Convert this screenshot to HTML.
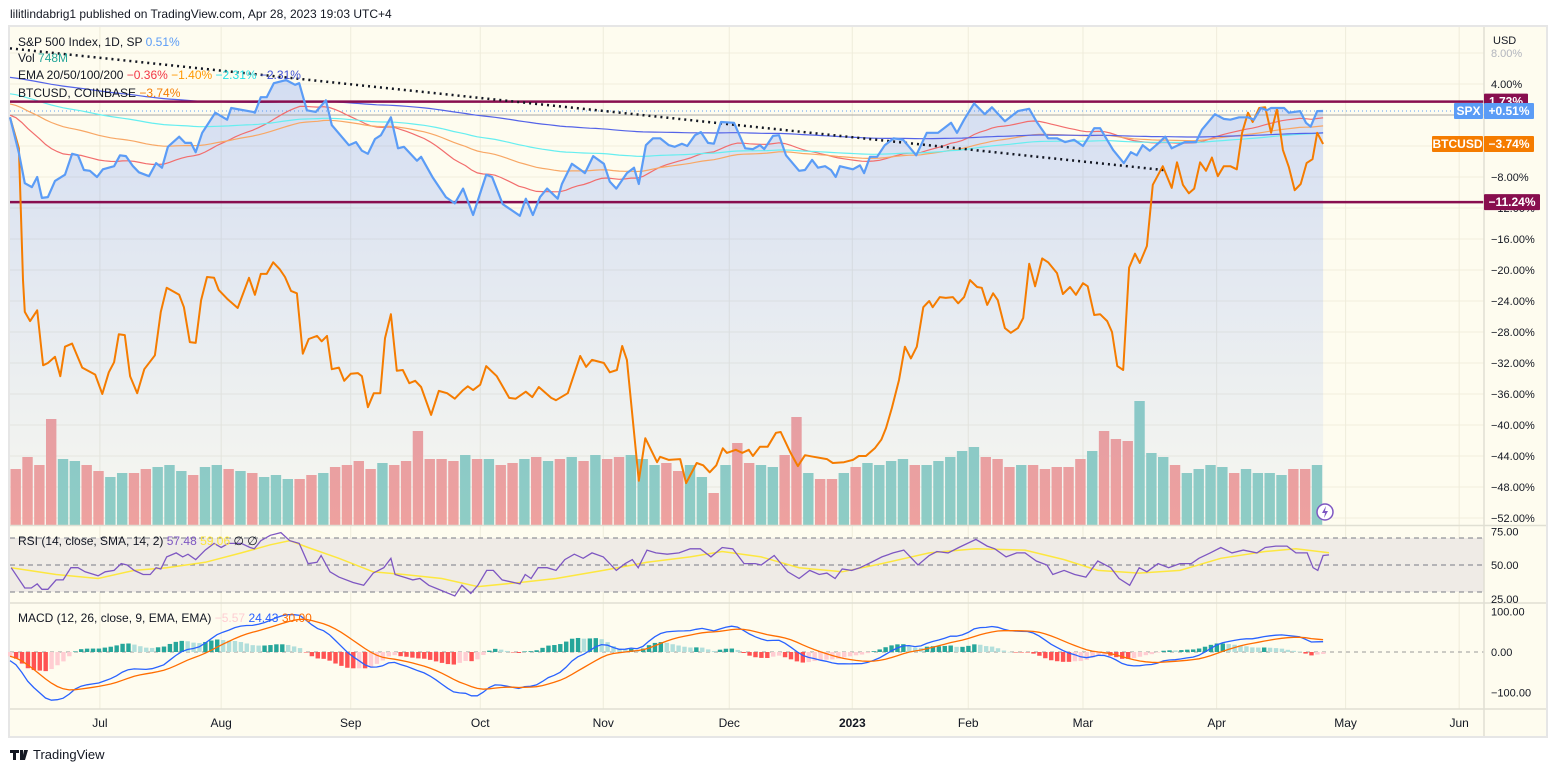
<!DOCTYPE html>
<html><head><meta charset="utf-8"><style>
html,body{margin:0;padding:0;background:#fff;width:1556px;height:772px;overflow:hidden}
svg{display:block;font-family:"Liberation Sans",sans-serif}
</style></head><body>
<svg id="c" width="1556" height="772" viewBox="0 0 1556 772">
<text x="10" y="18" font-size="12" fill="#131722">lilitlindabrig1 published on TradingView.com, Apr 28, 2023 19:03 UTC+4</text>
<rect x="9" y="26" width="1538" height="711" fill="#fefcef" stroke="#e6e6e6" stroke-width="2"/>
<g id="grid"></g>
<rect x="10" y="538" width="1474" height="54" fill="#efebe6"/>
<g id="plot"></g>
<g id="axes"></g>
<g>
<path d="M10 750h9v3h-3v7h-3v-7h-3z M20 750h3v10h-3z M24 750h4l-3 10h-3z" fill="#131722"/>
<text x="33" y="759" font-size="13" fill="#131722">TradingView</text>
</g>
</svg>
<script>
// ---------- data ----------
const spxT=[0,1.5,2.5,3.7,4.6,5.4,6.4,7.6,9.3,10.5,11.5,12.5,13.5,14.7,15.7,17.6,18.6,19.6,20.8,21.8,23.5,24.7,25.7,26.7,28.6,29.6,30.6,31.4,32.5,34.7,36.7,37.4,41.1,41.4,42.4,43.4,44.6,46.7,48.2,48.9,50.2,51.7,53.4,54.4,57.3,58.5,59.5,60.5,61.7,62.7,64.4,65.6,66.6,68.8,69.5,71.5,73.7,75.2,76.6,78.3,80.5,81.5,83.3,86.2,87.2,88.4,89.6,90.8,92.6,93.3,95.0,96.5,97.2,98.6,100.4,101.4,102.5,104.3,105.5,106.3,107.5,108.7,109.9,111.4,112.4,113.6,114.5,115.8,116.8,118.0,119.0,120.2,122.4,124.3,125.6,126.8,127.5,129.0,130.0,131.2,133.4,134.4,135.6,136.6,137.8,138.8,139.6,140.3,142.5,143.7,144.4,145.4,146.6,147.9,149.4,151.0,153.2,155.0,156.9,159.1,160.1,161.3,163.0,164.8,166.0,168.2,170.4,172.3,173.6,175.5,177.0,178.4,179.9,181.4,183.3,184.3,186.5,188.3,189.5,190.5,191.5,192.7,194.2,195.3,196.4,198.6,200.5,201.5,203.7,205.2,206.3,207.8,209.3,210.3,211.5,212.5,213.2,215.4,216.2,218.1,219.1,219.9,221.0,222.0];
const spxPct=[-0.3,-4.9,-8.8,-9.3,-8.0,-10.7,-10.6,-8.5,-7.7,-5.0,-5.2,-7.1,-7.2,-8.0,-7.0,-6.6,-5.2,-5.3,-6.6,-7.4,-7.9,-6.2,-6.8,-4.1,-2.8,-3.6,-3.6,-4.8,-2.3,0.3,-0.6,0.9,0.4,0.3,2.3,2.3,4.1,4.5,3.9,4.1,0.6,0.4,1.9,-1.3,-3.9,-3.5,-4.6,-5.0,-3.1,-2.6,-0.3,-4.3,-4.1,-5.9,-5.4,-8.1,-10.6,-11.4,-9.5,-12.9,-7.7,-8.0,-11.5,-13.0,-10.8,-12.9,-10.6,-9.5,-10.8,-8.9,-6.3,-7.1,-7.5,-5.3,-6.3,-8.6,-9.5,-7.5,-6.8,-8.9,-3.9,-3.0,-3.0,-3.9,-4.1,-3.7,-4.0,-2.6,-2.2,-3.6,-3.7,-0.9,-1.0,-4.3,-4.4,-3.9,-4.4,-2.7,-2.6,-5.2,-7.2,-7.1,-5.8,-6.8,-6.6,-7.1,-8.0,-6.6,-7.0,-6.5,-7.5,-5.4,-5.4,-3.9,-3.0,-3.2,-5.2,-2.3,-2.3,-1.0,-2.3,-0.6,1.5,0.1,1.0,-0.8,0.5,0.8,-0.9,-3.0,-3.0,-3.5,-3.2,-4.0,-1.7,-1.7,-4.5,-6.2,-4.8,-5.2,-3.9,-4.6,-3.6,-2.8,-4.3,-3.5,-3.5,-1.9,0.1,-0.5,-0.6,-0.3,-0.3,-0.6,0.9,0.6,0.9,0.9,0.3,0.5,-1.0,-1.5,0.5,0.51];
const btcT=[0,1.5,2.2,2.5,3.4,4.6,5.6,6.4,7.6,8.5,9.3,10.5,12.2,14.4,15.6,16.7,17.6,18.4,19.4,20.3,21.5,22.7,24.5,25.5,26.5,28.6,29.4,30.4,31.4,32.3,33.3,34.5,35.3,36.7,38.5,40.4,41.4,42.4,43.4,44.5,45.6,46.5,47.5,48.5,49.5,50.5,51.9,52.7,53.6,54.4,55.6,56.5,57.6,58.8,59.5,60.5,61.5,62.6,63.4,64.4,65.4,66.4,67.5,68.5,69.5,71.2,72.5,73.9,75.2,76.6,77.4,78.3,79.5,80.5,82.3,84.4,85.5,87.2,88.3,89.4,91.5,92.3,94.3,96.4,97.4,98.4,100.4,101.4,102.6,103.5,104.3,106.3,107.4,109.4,109.9,111.4,113.3,114.3,116.1,117.2,118.3,119.4,120.5,121.2,122.7,123.8,124.9,125.6,126.8,128.1,129.5,130.3,131.9,133.2,134.4,135.9,138.1,139.1,141.0,142.5,143.5,144.7,146.2,147.3,148.1,149.1,150.3,151.3,152.3,153.3,154.4,155.4,156.0,157.2,158.2,159.4,160.3,161.3,162.3,163.5,164.3,165.2,166.2,167.0,168.2,169.2,170.4,171.3,172.3,173.3,174.5,175.5,177.0,178.0,179.2,180.2,181.4,182.2,183.3,184.3,185.5,186.3,187.2,188.2,189.2,190.2,191.0,192.2,193.2,194.9,196.4,197.3,198.3,199.3,200.2,201.2,202.2,203.2,204.2,205.2,206.3,207.4,208.3,209.3,210.1,211.2,212.2,213.2,214.2,215.2,216.2,217.2,218.2,219.2,220.2,221.0,222.0];
const btcPct=[-0.3,-4.3,-21.3,-25.4,-26.6,-25.2,-32.3,-32.0,-31.2,-33.7,-29.9,-29.5,-32.6,-33.5,-36.0,-33.2,-31.9,-28.3,-28.4,-33.7,-35.9,-32.8,-31.0,-25.4,-22.3,-23.2,-24.8,-29.3,-29.4,-23.9,-20.9,-21.0,-22.6,-23.7,-24.9,-21.0,-23.2,-20.5,-20.5,-19.0,-19.9,-20.9,-22.7,-23.0,-30.8,-28.9,-28.5,-29.2,-28.5,-32.8,-32.6,-34.3,-33.4,-33.3,-33.7,-37.7,-35.9,-35.9,-28.8,-25.7,-33.0,-32.9,-34.6,-34.3,-35.1,-38.7,-35.6,-35.9,-36.6,-35.5,-35.0,-35.5,-34.8,-32.4,-33.7,-36.5,-36.6,-35.7,-36.4,-35.1,-36.5,-36.8,-35.9,-31.1,-32.5,-31.6,-32.0,-33.2,-32.9,-29.8,-31.6,-47.2,-41.7,-44.8,-44.1,-44.5,-44.4,-47.5,-44.9,-45.2,-46.1,-45.2,-43.0,-43.6,-43.2,-43.6,-43.2,-44.0,-42.8,-42.8,-41.0,-40.9,-43.5,-45.3,-43.9,-44.1,-44.4,-44.9,-44.8,-44.5,-44.0,-44.0,-43.0,-41.9,-40.4,-37.8,-34.2,-29.9,-31.4,-29.9,-24.8,-24.0,-24.8,-23.5,-23.6,-23.5,-24.3,-23.5,-21.3,-22.2,-22.3,-24.5,-23.0,-23.9,-27.5,-28.1,-27.5,-26.2,-19.2,-22.1,-18.5,-19.0,-20.4,-23.1,-22.2,-23.2,-21.7,-22.1,-25.8,-25.7,-26.6,-28.0,-32.4,-32.9,-19.7,-17.9,-19.1,-16.9,-9.0,-6.6,-9.4,-6.1,-9.0,-10.1,-9.5,-6.1,-7.2,-5.5,-7.9,-6.6,-6.6,-7.0,-2.3,0.3,-0.9,0.9,1.0,-2.3,0.8,-4.5,-6.7,-9.7,-8.9,-6.2,-5.7,-2.3,-3.74];
const volB=[2.8,3.4,3.0,5.3,3.3,3.2,3.0,2.7,2.4,2.6,2.6,2.8,2.9,3.0,2.7,2.5,2.9,3.0,2.8,2.7,2.6,2.4,2.5,2.3,2.3,2.5,2.6,2.9,3.0,3.2,2.8,3.1,3.0,3.2,4.7,3.3,3.3,3.2,3.5,3.3,3.3,3.0,3.1,3.3,3.4,3.2,3.3,3.4,3.2,3.5,3.3,3.4,3.5,3.3,3.0,3.1,2.7,3.0,2.4,1.6,3.0,4.1,3.1,3.0,2.9,3.5,5.4,2.6,2.3,2.3,2.6,2.9,3.1,3.0,3.2,3.3,3.0,3.0,3.2,3.4,3.7,3.9,3.4,3.3,2.9,3.0,3.0,2.8,2.9,2.9,3.3,3.7,4.7,4.3,4.2,6.2,3.6,3.4,3.0,2.6,2.8,3.0,2.9,2.6,2.8,2.6,2.6,2.5,2.8,2.8,3.0];
const rsiT=[0.2,2.5,3.6,4.6,5.4,6.4,7.8,9.0,10.3,11.5,12.7,14.2,14.9,16.1,17.6,18.8,19.8,21.0,22.5,23.7,24.7,25.5,26.5,28.1,29.2,30.1,31.4,33.0,34.5,35.7,36.9,39.1,40.6,41.3,42.4,44.0,45.8,47.3,48.9,50.4,51.9,52.6,54.1,55.6,58.0,59.8,61.4,63.2,64.4,65.1,66.6,68.1,69.3,70.8,73.0,75.2,76.4,77.9,79.1,80.6,81.7,83.2,86.2,87.1,88.1,89.3,90.8,92.3,93.8,95.4,96.9,98.4,100.3,102.5,104.0,105.2,106.2,107.7,109.2,111.1,113.1,115.0,116.7,118.5,120.4,122.2,124.1,126.0,127.0,129.2,131.5,133.4,135.2,136.8,138.1,139.5,140.7,142.3,143.7,145.6,147.4,149.3,151.1,153.5,155.4,156.7,158.6,160.4,163.3,165.2,166.5,168.4,170.2,171.6,173.5,175.3,176.3,178.2,180.0,181.9,183.9,186.1,187.5,189.3,190.9,192.2,194.1,195.9,197.8,199.7,201.0,202.9,204.7,206.6,208.5,210.8,212.2,214.0,215.9,217.4,219.3,220.3,221.1,222.0,223.0];
const rsiVal=[48,33,33,36,32,32,39,39,48,48,45,43,42,45,46,51,50,46,43,43,48,47,56,59,56,58,54,61,66,63,66,66,63,62,68,72,74,68,66,51,52,57,45,41,37,35,44,48,55,43,41,39,40,35,31,27,35,29,35,46,46,39,36,43,40,48,48,46,54,58,55,59,56,46,51,54,48,61,59,58,59,62,62,56,63,62,51,51,50,57,45,40,46,43,44,40,47,46,48,52,56,59,61,50,57,60,59,63,69,64,62,56,59,59,53,50,43,46,43,41,53,48,40,35,48,45,51,48,51,51,55,59,63,59,61,59,63,64,64,59,59,48,46,57,57.48];
const rsiMaT=[0.2,7.8,14.9,21.0,26.5,33.0,39.1,44.0,47.3,50.4,55.6,61.4,66.6,73.0,79.1,86.2,92.3,100.3,107.7,115.0,120.4,127.0,133.4,140.7,147.4,155.4,163.3,171.6,178.2,183.9,190.9,197.8,204.7,212.2,217.4,223.0];
const rsiMaVal=[48,43,40,46,48,52,59,65,68,63,55,45,43,40,34,37,40,46,52,56,60,56,48,45,51,59,62,61,54,46,44,46,55,60,62,59.06];
const emaSeeds=[0.0,1.5,2.8,4.9];
const emaPeriods=[20,50,100,200];
const macdSeeds=[0.3,0.8,-8];
const pricePerPct=41.35;
const trendStart=[0,8.6], trendEnd=[195,-7.1];
const hLevels=[1.73,-11.24];
const pctTicks=[8,4,0,-4,-8,-12,-16,-20,-24,-28,-32,-36,-40,-44,-48,-52];
const monthLabels=["Jul","Aug","Sep","Oct","Nov","Dec","2023","Feb","Mar","Apr","May","Jun"];
const monthT=[15.2,35.7,57.6,79.5,100.3,121.6,142.4,162,181.4,204,225.8,245];
const rsiTicks=[75,50,25], macdTicks=[100,0,-100];

// ---------- scales ----------
const X0=10, STEP=5.915;
const xS=t=>X0+t*STEP;
const yP=p=>115-7.75*p;
const yR=r=>565-(r-50)*1.35;
const yM=m=>652-m*0.405;
const NS='http://www.w3.org/2000/svg';
function el(tag,attrs,parent){const e=document.createElementNS(NS,tag);for(const k in attrs)e.setAttribute(k,attrs[k]);parent.appendChild(e);return e;}
function interp(ts,vs,t){if(t<=ts[0])return vs[0];for(let i=1;i<ts.length;i++){if(t<=ts[i]){const f=(t-ts[i-1])/(ts[i]-ts[i-1]);return vs[i-1]+f*(vs[i]-vs[i-1]);}}return vs[vs.length-1];}
const path=(ts,vs,fy)=>ts.map((t,i)=>(i?'L':'M')+xS(t).toFixed(1)+' '+fy(vs[i]).toFixed(1)).join(' ');
const plot=document.getElementById('plot'), grid=document.getElementById('grid'), axes=document.getElementById('axes');

const N=222, spxD=[];
for(let d=0;d<=N;d++)spxD.push(interp(spxT,spxPct,d));

pctTicks.forEach(p=>{const g=el('line',{x1:10,x2:1484,y1:yP(p),y2:yP(p),stroke:'#f1eedd','stroke-width':1},grid);

});
monthT.forEach(t=>{const g=el('line',{x1:xS(t),x2:xS(t),y1:27,y2:709,stroke:'#efecdb','stroke-width':1},grid);

});

volB.forEach((v,i)=>{const d1=Math.min(2*i+1,N),d0=Math.max(2*i-1,0);const up=spxD[d1]>=spxD[d0];
const h=v*20;const r=el('rect',{x:xS(2*i)+0.5,y:525-h,width:10.4,height:h,fill:up?'#92d0c3':'#f4a39c'},plot);

});

const defs=el('defs',{},plot);
const lg=el('linearGradient',{id:'ag',x1:0,y1:0,x2:0,y2:1},defs);
el('stop',{offset:'0','stop-color':'#2962ff','stop-opacity':'0.2'},lg);
el('stop',{offset:'1','stop-color':'#2962ff','stop-opacity':'0.03'},lg);
const area=el('path',{d:path(spxT,spxPct,yP)+` L${xS(N)} 525 L${xS(0)} 525 Z`,fill:'url(#ag)'},plot);



const bl=el('line',{x1:10,x2:1484,y1:yP(0),y2:yP(0),stroke:'#aaa9a6','stroke-width':1},plot);


const lp=el('line',{x1:10,x2:1484,y1:yP(spxPct[spxPct.length-1]),y2:yP(spxPct[spxPct.length-1]),stroke:'#5b9cf6','stroke-width':1,'stroke-dasharray':'1 3'},plot);



const emaCols=['#f26d6d','#f8a765','#66eef0','#5463e8'];
const emaNames=['ema-20-line','ema-50-line','ema-100-line','ema-200-line'];
emaPeriods.forEach((P,k)=>{const a=2/(P+1);let e=emaSeeds[k];const ts=[],vs=[];
for(let d=0;d<=N;d++){e=a*spxD[d]+(1-a)*e;ts.push(d);vs.push(e);}
const l=el('path',{d:path(ts,vs,yP),fill:'none',stroke:emaCols[k],'stroke-width':1.2},plot);

});

hLevels.forEach(p=>{const l=el('line',{x1:10,x2:1484,y1:yP(p),y2:yP(p),stroke:'#880e4f','stroke-width':2.5},plot);

});

const tl=el('line',{x1:xS(trendStart[0]),y1:yP(trendStart[1]),x2:xS(trendEnd[0]),y2:yP(trendEnd[1]),stroke:'#131722','stroke-width':2.5,'stroke-dasharray':'2 4'},plot);



const bt=el('path',{d:path(btcT,btcPct,yP),fill:'none',stroke:'#f57c00','stroke-width':2,'stroke-linejoin':'round'},plot);


const sp=el('path',{d:path(spxT,spxPct,yP),fill:'none',stroke:'#5b9cf6','stroke-width':2.2,'stroke-linejoin':'round'},plot);



[70,50,30].forEach(r=>{const l=el('line',{x1:10,x2:1484,y1:yR(r),y2:yR(r),stroke:'#787b86','stroke-width':1,'stroke-dasharray':'5 4'},plot);

});
const rm=el('path',{d:path(rsiMaT,rsiMaVal,yR),fill:'none',stroke:'#fde73f','stroke-width':1.5},plot);


const rl=el('path',{d:path(rsiT,rsiVal,yR),fill:'none',stroke:'#7e57c2','stroke-width':1.3},plot);



const z=el('line',{x1:10,x2:1484,y1:yM(0),y2:yM(0),stroke:'#9a9a9a','stroke-width':1,'stroke-dasharray':'4 4'},plot);


let e12=macdSeeds[0],e26=macdSeeds[1],sig=macdSeeds[2];const mT=[],mV=[],sV=[],hV=[];
for(let d=0;d<=N;d++){e12=(2/13)*spxD[d]+(11/13)*e12;e26=(2/27)*spxD[d]+(25/27)*e26;const m=(e12-e26)*pricePerPct;sig=0.2*m+0.8*sig;mT.push(d);mV.push(m);sV.push(sig);hV.push(m-sig);}
hV.forEach((h,d)=>{const prev=d?hV[d-1]:h;let c;if(h>=0)c=h>=prev?'#26a69a':'#b2dfdb';else c=h<prev?'#ff5252':'#ffcdd2';
const y1=Math.min(yM(0),yM(h)),hh=Math.max(0.5,Math.abs(yM(h)-yM(0)));
const r=el('rect',{x:xS(d)-2,y:y1,width:4.4,height:hh,fill:c},plot);

});
const ml=el('path',{d:path(mT,mV,yM),fill:'none',stroke:'#2962ff','stroke-width':1.3},plot);


const sl=el('path',{d:path(mT,sV,yM),fill:'none',stroke:'#ff6d00','stroke-width':1.3},plot);



[[10,1546,525.5,525.5],[10,1546,603,603],[10,1546,709,709],[1484,1484,27,736]].forEach(s=>{const l=el('line',{x1:s[0],x2:s[1],y1:s[2],y2:s[3],stroke:'#e0dfd3','stroke-width':1.5},axes);

});
function txt(x,y,s,fs,fill,extra,name,inter){const t=el('text',Object.assign({x:x,y:y,'font-size':fs,fill:fill},extra||{}),axes);t.textContent=s;

return t;}
const fmtP=p=>(p<0?'\u2212':'')+Math.abs(p).toFixed(2)+'%';
txt(1493,44,'USD',11,'#131722',{},'axis-currency',false);
pctTicks.forEach(p=>txt(1491,yP(p)+4,fmtP(p),11,p===8?'#b2b5be':'#131722',{},'price-tick-label',false));
rsiTicks.forEach(r=>txt(1491,yR(r)+4,r.toFixed(2),11,'#131722',{},'rsi-tick-label',false));
macdTicks.forEach(m=>txt(1491,yM(m)+4,(m<0?'\u2212':'')+Math.abs(m).toFixed(2),11,'#131722',{},'macd-tick-label',false));
monthLabels.forEach((m,i)=>txt(xS(monthT[i]),727,m,12,'#131722',{'text-anchor':'middle','font-weight':m==='2023'?'bold':'normal'},'time-axis-label',false));

function tag(x,y,w,fill,s,name){const r=el('rect',{x:x,y:y,width:w,height:16,fill:fill,rx:1},axes);


txt(x+w/2,y+12,s,12,'#fff',{'text-anchor':'middle','font-weight':'bold'},name,false);}
tag(1484,yP(1.73)-8,44,'#880e4f',fmtP(1.73),'level-tag-high');
tag(1454,yP(0.51)-8,29,'#5b9cf6','SPX','spx-symbol-tag');
tag(1484,yP(0.51)-8,50,'#5b9cf6','+0.51%','spx-value-tag');
tag(1432,yP(-3.74)-8,51,'#f57c00','BTCUSD','btc-symbol-tag');
tag(1484,yP(-3.74)-8,50,'#f57c00',fmtP(-3.74),'btc-value-tag');
tag(1484,yP(-11.24)-8,56,'#880e4f',fmtP(-11.24),'level-tag-low');

const lc=el('circle',{cx:1325,cy:512,r:8,fill:'#fff',stroke:'#7e57c2','stroke-width':1.5},axes);


el('path',{d:'M1326 506 L1322 513 L1325 513 L1324 518 L1328 511 L1325 511 Z',fill:'#7e57c2'},axes);

function legend(y,parts,name){const t=el('text',{x:18,y:y,'font-size':12},axes);


parts.forEach(p=>{const s=el('tspan',{fill:p[1]},t);s.textContent=p[0];});}
legend(46,[['S&P 500 Index, 1D, SP  ','#131722'],['0.51%','#5b9cf6']],'spx-legend');
legend(62,[['Vol  ','#131722'],['748M','#26a69a']],'volume-legend');
legend(79,[['EMA 20/50/100/200  ','#131722'],['\u22120.36%  ','#f23645'],['\u22121.40%  ','#ff9800'],['\u22122.31%  ','#26e0e6'],['\u22122.31%','#3f51d5']],'ema-legend');
legend(97,[['BTCUSD, COINBASE  ','#131722'],['\u22123.74%','#f57c00']],'btc-legend');
legend(545,[['RSI (14, close, SMA, 14, 2)  ','#131722'],['57.48  ','#7e57c2'],['59.06  ','#fde73f'],['\u2205  \u2205','#131722']],'rsi-legend');
legend(622,[['MACD (12, 26, close, 9, EMA, EMA)  ','#131722'],['\u22125.57  ','#ffcdd2'],['24.43  ','#2962ff'],['30.00','#ff6d00']],'macd-legend');
</script>
</body></html>
